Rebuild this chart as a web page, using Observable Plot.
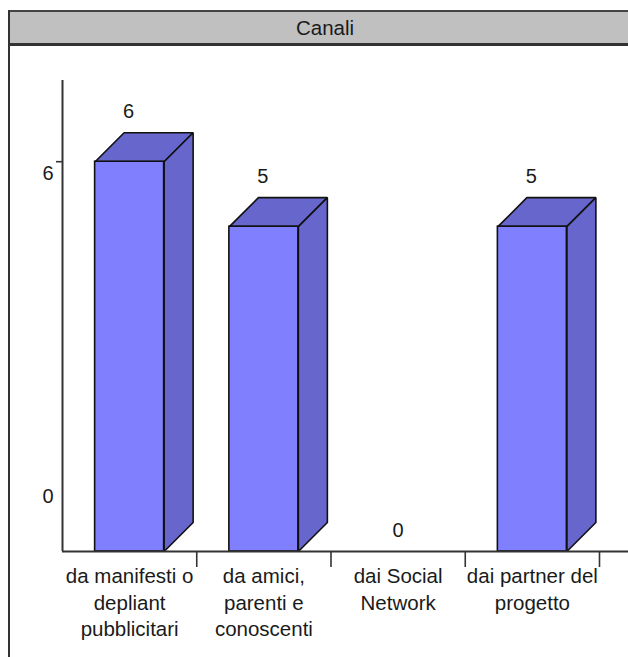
<!DOCTYPE html>
<html>
<head>
<meta charset="utf-8">
<script src="https://cdn.jsdelivr.net/npm/d3@7"></script>
<script src="https://cdn.jsdelivr.net/npm/@observablehq/plot@0.6"></script>
<style>
  html, body { margin: 0; padding: 0; background: #fff; overflow: hidden; }
  #wrap { position: relative; width: 628px; height: 657px; overflow: hidden; font-family: "Liberation Sans", Arial, sans-serif; }
  #chart { position: absolute; left: 0; top: 0; }
  #title {
    position: absolute; left: 9px; top: 10px; width: 632px; height: 31px;
    background: #c0c0c0; border-top: 2px solid #444; border-bottom: 3px solid #333;
    text-align: center; line-height: 31px; font-size: 20.5px; color: #1a1a1a;
    box-sizing: content-box;
  }
  #leftline { position: absolute; left: 8px; top: 10px; width: 2px; height: 660px; background: #333; }
</style>
</head>
<body>
<div id="wrap">
  <div id="chart"></div>
  <div id="title">Canali</div>
  <div id="leftline"></div>
</div>
<script>
// ---- data ----
const categories = ["da manifesti o\ndepliant\npubblicitari", "da amici,\nparenti e\nconoscenti", "dai Social\nNetwork", "dai partner del\nprogetto"];
const values = [6, 5, 0, 5];
const yTickValues = [6, 0];
const yTickLabels = ["6", "0"];

// ---- layout ----
const W = 628, H = 657;
const mLeft = 62, mTop = 80, mBottom = 106;
const xDomain = [-0.5, categories.length - 0.5];
const xRange = [62, 599];
const yDomain = [0, 7.25];
const frontFace = "#8080ff", darkFace = "#6666cc";
const halfWidthPx = 34.5, depthPx = 29;

const xPerUnit = (xRange[1] - xRange[0]) / (xDomain[1] - xDomain[0]);
const yPerUnit = (H - mBottom - mTop) / (yDomain[1] - yDomain[0]);
const hw = halfWidthPx / xPerUnit, dX = depthPx / xPerUnit, dY = depthPx / yPerUnit;

const data = categories.map((label, i) => ({ i, label, v: values[i] }));
const faces = [];
data.filter(d => d.v > 0).forEach(d => {
  const xl = d.i - hw, xr = d.i + hw, v = d.v;
  [[xl, v], [xl + dX, v + dY], [xr + dX, v + dY], [xr, v]].forEach(([x, y]) => faces.push({ key: "top" + d.i, x, y }));
  [[xr, 0], [xr + dX, dY], [xr + dX, v + dY], [xr, v]].forEach(([x, y]) => faces.push({ key: "side" + d.i, x, y }));
});
const boundaries = categories.map((_, i) => i + 0.5);

const chart = Plot.plot({
  width: W, height: H,
  marginLeft: mLeft, marginRight: 0, marginTop: mTop, marginBottom: mBottom,
  x: { type: "linear", domain: xDomain, range: xRange, axis: null },
  y: { domain: yDomain, axis: null },
  style: { fontFamily: "'Liberation Sans', Arial, sans-serif", fontSize: "20px", background: "transparent", color: "#333" },
  marks: [
    Plot.line(faces, { x: "x", y: "y", z: "key", fill: darkFace, stroke: "#111", strokeWidth: 1.6, curve: "linear-closed", strokeLinejoin: "miter" }),
    Plot.rect(data.filter(d => d.v > 0), { x1: d => d.i - hw, x2: d => d.i + hw, y1: 0, y2: "v", fill: frontFace, stroke: "#111", strokeWidth: 1.6 }),
    Plot.ruleY([yDomain[0]], { stroke: "#333", strokeWidth: 2 }),
    Plot.ruleX([xDomain[0]], { stroke: "#333", strokeWidth: 2 }),
    Plot.axisX({ ticks: boundaries, tickSize: 16, tickFormat: () => "", stroke: "#333", strokeWidth: 1.6 }),
    Plot.axisY({ ticks: [yTickValues[0]], tickSize: 6, tickFormat: () => "", stroke: "#333", strokeWidth: 1.6 }),
    Plot.text(yTickValues, { y: d => d, text: (d, i) => yTickLabels[i], frameAnchor: "left", textAnchor: "end", dx: -9, dy: 12, fill: "#1a1a1a", filter: d => d !== 0 }),
    Plot.text(yTickValues, { y: d => d, text: (d, i) => yTickLabels[i], frameAnchor: "left", textAnchor: "end", dx: -9, dy: -55, fill: "#1a1a1a", filter: d => d === 0 }),
    Plot.text(data, { x: "i", y: "v", text: d => String(d.v), dy: -50, dx: -1, fill: "#1a1a1a", filter: d => d.v > 0 }),
    Plot.text(data, { x: "i", y: "v", text: d => String(d.v), dy: -21, fill: "#1a1a1a", filter: d => d.v === 0 }),
    Plot.text(data, { x: "i", text: "label", frameAnchor: "bottom", lineAnchor: "top", dy: 13, lineHeight: 1.29, fontSize: 20.5, fill: "#1a1a1a" })
  ]
});
document.getElementById("chart").appendChild(chart);
</script>
</body>
</html>
